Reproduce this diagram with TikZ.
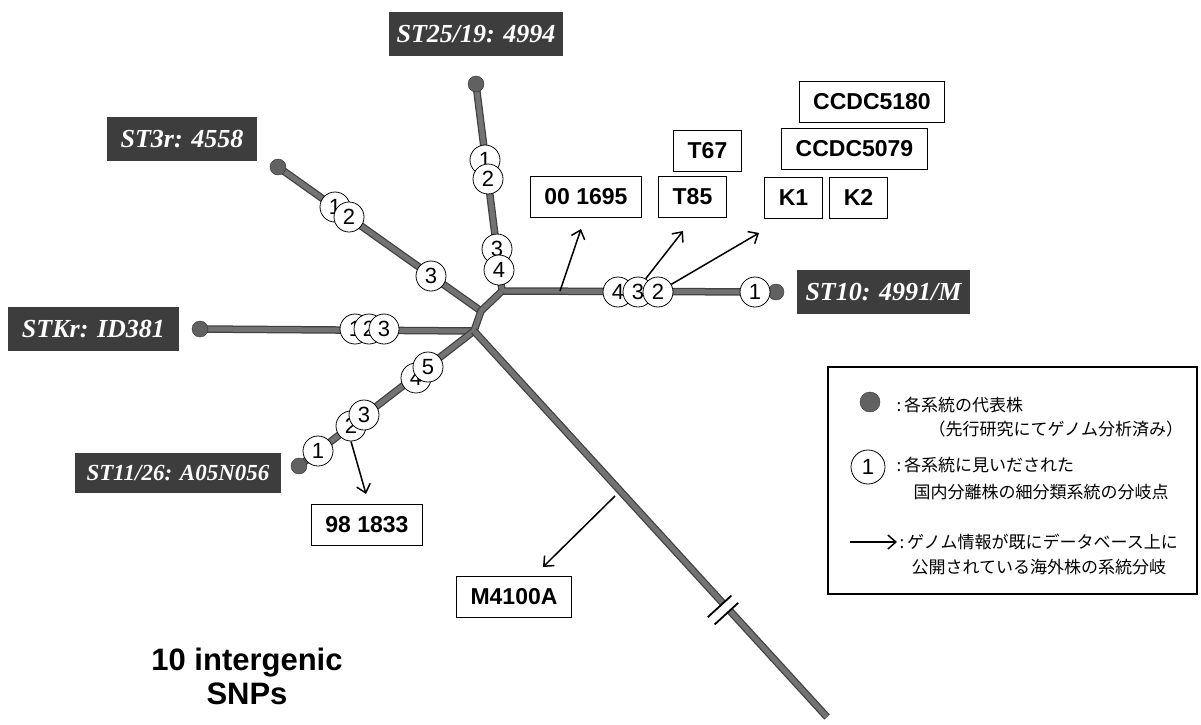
\documentclass[tikz,border=0pt]{standalone}
\usepackage{fontspec}
\setmainfont{Liberation Serif}
\setsansfont{Liberation Sans}
\newfontfamily\jpfont{Noto Sans CJK JP}
\usetikzlibrary{arrows.meta}

\tikzset{
  branch/.style={line width=7.5pt, draw=black!75, line join=round,
    postaction={draw=black!55, line width=5pt, line join=round}},
  strain/.style={circle, fill=black!62, draw=black!80, minimum size=16pt, inner sep=0pt},
  snp/.style={circle, draw, thick, fill=white, minimum size=30pt, inner sep=0pt,
    font=\sffamily\fontsize{22}{22}\selectfont},
  refbox/.style={fill=black!76, text=white, minimum height=44pt, inner xsep=8pt,
    font=\rmfamily\bfseries\itshape\fontsize{26}{26}\selectfont},
  isolate/.style={draw, thick, minimum height=41pt, inner xsep=14pt,
    font=\sffamily\bfseries\fontsize{23}{23}\selectfont},
  link/.style={-{Straight Barb[length=8pt, width=14pt]}, line width=1.5pt},
  keytext/.style={anchor=west, font=\jpfont\fontsize{17}{20}\selectfont},
}

\begin{document}
\begin{tikzpicture}[x=1pt, y=-1pt]
  \useasboundingbox (0,0) rectangle (1201,724);

  % junctions and tips of the tree
  \coordinate (J) at (474,331);
  \coordinate (K) at (481,311);
  \coordinate (H) at (502,291);
  \coordinate (tail) at (827,717);
  \coordinate (p25) at (476,84);
  \coordinate (p3) at (278,167);
  \coordinate (pK) at (200,329);
  \coordinate (p11) at (299,466);
  \coordinate (p10) at (776,292);

  % branches
  \draw[branch] (p25) -- (H) -- (p10);
  \draw[branch] (p3) -- (K);
  \draw[branch] (pK) -- (J);
  \draw[branch] (p11) -- (J) -- (K) -- (H);
  \draw[branch] (J) -- (tail);

  % break on the long branch
  \begin{scope}[shift={(723,610)}, rotate=-47.5]
    \fill[white] (-4.5,-16) rectangle (4.5,16);
    \draw[line width=1.8pt] (-5,-16) -- (-5,16) (5,-16) -- (5,16);
  \end{scope}

  % representative strains
  \node[strain] (d25) at (p25) {};
  \node[strain] (d3) at (p3) {};
  \node[strain] (dK) at (pK) {};
  \node[strain] (d11) at (p11) {};
  \node[strain] (d10) at (p10) {};

  \node[refbox, minimum width=172pt] (st25) at (476,34) {ST25/19: 4994};
  \node[refbox, minimum width=150pt] (st3) at (182,139) {ST3r: 4558};
  \node[refbox, minimum width=171pt] (stK) at (93.5,329) {STKr: ID381};
  \node[refbox, minimum width=173pt] (st10) at (883.5,292) {ST10: 4991/M};
  \node[refbox, minimum width=206pt, minimum height=40pt,
    font=\rmfamily\bfseries\itshape\fontsize{23}{23}\selectfont] (st11) at (178,473) {ST11/26: A05N056};

  % branch points
  \node[snp] (t1) at (485,160) {1};
  \node[snp] (t2) at (488,179) {2};
  \node[snp] (t3) at (497,249) {3};
  \node[snp] (t4) at (499,270) {4};

  \node[snp] (a1) at (335,207) {1};
  \node[snp] (a2) at (349,217) {2};
  \node[snp] (a3) at (431,276) {3};

  \node[snp] (k1) at (355,329) {1};
  \node[snp] (k2) at (369,329) {2};
  \node[snp] (k3) at (384,329) {3};

  \node[snp] (l1) at (318,451) {1};
  \node[snp] (l2) at (351,426) {2};
  \node[snp] (l3) at (364,415) {3};
  \node[snp] (l4) at (416,378) {4};
  \node[snp] (l5) at (428,367) {5};

  \node[snp] (r1) at (755,292) {1};
  \node[snp] (r4) at (618,292) {4};
  \node[snp] (r3) at (638,292) {3};
  \node[snp] (r2) at (658,292) {2};

  % overseas strains
  \node[isolate] (s1695) at (586,196.5) {00 1695};
  \node[isolate] (sT85) at (692.5,196.5) {T85};
  \node[isolate] (sT67) at (707.5,150.5) {T67};
  \node[isolate] (sK1) at (793.5,197.5) {K1};
  \node[isolate] (sK2) at (858.5,197.5) {K2};
  \node[isolate] (s5079) at (854.5,149) {CCDC5079};
  \node[isolate] (s5180) at (872,102) {CCDC5180};
  \node[isolate] (s1833) at (367,524.5) {98 1833};
  \node[isolate] (s4100) at (514,597) {M4100A};

  \coordinate (f1695) at (560,291);
  \coordinate (h1695) at (581,229);
  \coordinate (hT85) at (683,231);
  \coordinate (hK1) at (759,233);
  \coordinate (h1833) at (366,494);
  \coordinate (f4100) at (615,496);
  \coordinate (h4100) at (543,567);
  \draw[link] (f1695) -- (h1695);
  \draw[link] (r3.60) -- (hT85);
  \draw[link] (r2.30) -- (hK1);
  \draw[link] (l2.south) -- (h1833);
  \draw[link] (f4100) -- (h4100);

  \node[font=\sffamily\bfseries\fontsize{31}{34}\selectfont, align=center]
    (count) at (247,676) {10 intergenic\\SNPs};

  % legend
  \draw[line width=1.8pt] (828,367) rectangle (1197,594);
  \node[strain, minimum size=20pt] (keydot) at (870,402) {};
  \node[keytext] (key1a) at (893,405) {:\,各系統の代表株};
  \node[keytext] (key1b) at (925,429) {（先行研究にてゲノム分析済み）};
  \node[snp, minimum size=34pt] (keysnp) at (868,467) {1};
  \node[keytext] (key2a) at (893,465) {:\,各系統に見いだされた};
  \node[keytext] (key2b) at (910,492) {国内分離株の細分類系統の分岐点};
  \coordinate (keyA) at (850,542);
  \coordinate (keyB) at (897,542);
  \draw[link] (keyA) -- (keyB);
  \node[keytext] (key3a) at (896,542) {:\,ゲノム情報が既にデータベース上に};
  \node[keytext] (key3b) at (908,567) {公開されている海外株の系統分岐};
\end{tikzpicture}
\end{document}
